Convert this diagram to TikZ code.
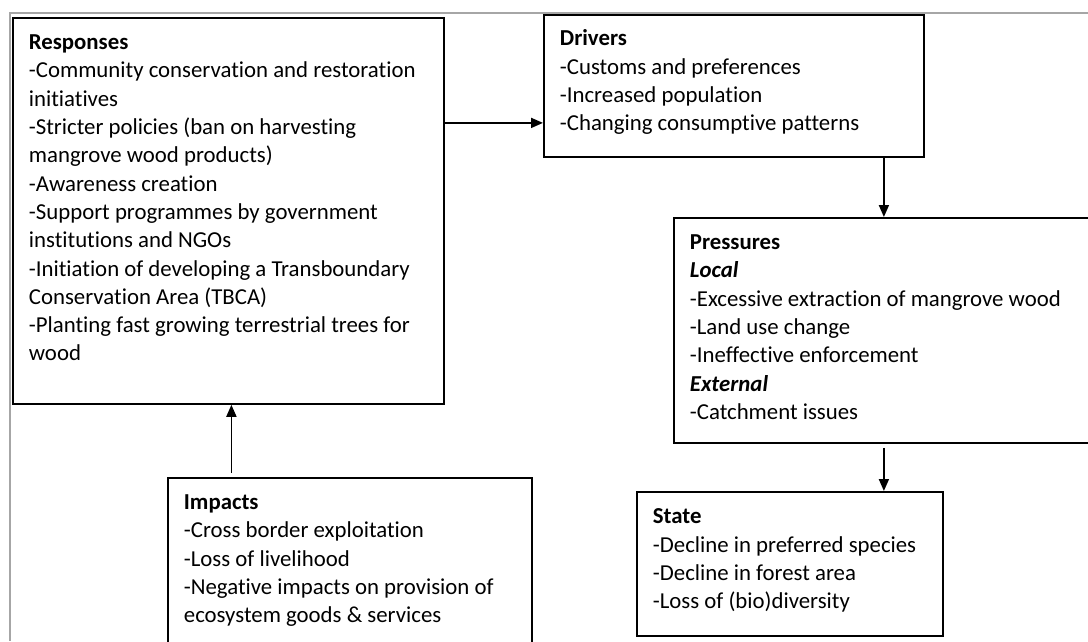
\documentclass[tikz,border=0pt]{standalone}
\usepackage{fontspec}
\setmainfont{Carlito}[Ligatures=NoCommon]
\usetikzlibrary{arrows.meta, positioning, calc}
\newcommand{\boxlines}[3]{\parbox[t][#1][t]{#2}{\raggedright #3}}

\begin{document}
\begin{tikzpicture}[x=1pt,y=-1pt,
  box/.style={draw, line width=1.8pt, rectangle, anchor=north west, align=left,
    inner xsep=16pt, inner ysep=17pt, font=\fontsize{22.8}{28.3}\selectfont},
  arr/.style={line width=1.8pt, -{Triangle[length=12pt,width=10pt]}},
  frame/.style={draw=gray!70, line width=1.5pt}]
\useasboundingbox (0,0) rectangle (1088,641);
\draw[frame] (1088,13) -| (10,641);

\node[box] (resp) at (12,17) {\boxlines{352pt}{399pt}{\textbf{Responses}\\
  -Community conservation and restoration\\ initiatives\\
  -Stricter policies (ban on harvesting\\ mangrove wood products)\\
  -Awareness creation\\
  -Support programmes by government\\ institutions and NGOs\\
  -Initiation of developing a Transboundary\\ Conservation Area (TBCA)\\
  -Planting fast growing terrestrial trees for\\ wood}};
\node[box, inner ysep=15pt] (drv) at (543,14) {\boxlines{112pt}{348pt}{\textbf{Drivers}\\
  -Customs and preferences\\ -Increased population\\ -Changing consumptive patterns}};
\node[box] (pres) at (673,217) {\boxlines{191pt}{406pt}{\textbf{Pressures}\\
  \textbf{\textit{Local}}\\ -Excessive extraction of mangrove wood\\ -Land use change\\
  -Ineffective enforcement\\ \textbf{\textit{External}}\\ -Catchment issues}};
\node[box] (stt) at (636,491) {\boxlines{110pt}{274pt}{\textbf{State}\\
  -Decline in preferred species\\ -Decline in forest area\\ -Loss of (bio)diversity}};
\node[box] (imp) at (167,477) {\boxlines{134pt}{332pt}{\textbf{Impacts}\\
  -Cross border exploitation\\ -Loss of livelihood\\
  -Negative impacts on provision of\\ ecosystem goods \& services}};

\coordinate (ra) at ([yshift=-37pt]drv.west);
\coordinate (dp) at ([xshift=150pt]drv.south);
\coordinate (ir) at ([xshift=3pt]resp.south);
\draw[arr] (resp.east |- ra) -- (ra);
\draw[arr] (dp) -- (dp |- pres.north);
\draw[arr] (pres.south -| dp) ++(0,4) -- (stt.north -| dp);
\draw[arr] (imp.north -| ir) ++(0,-4) -- (ir);
\end{tikzpicture}
\end{document}
